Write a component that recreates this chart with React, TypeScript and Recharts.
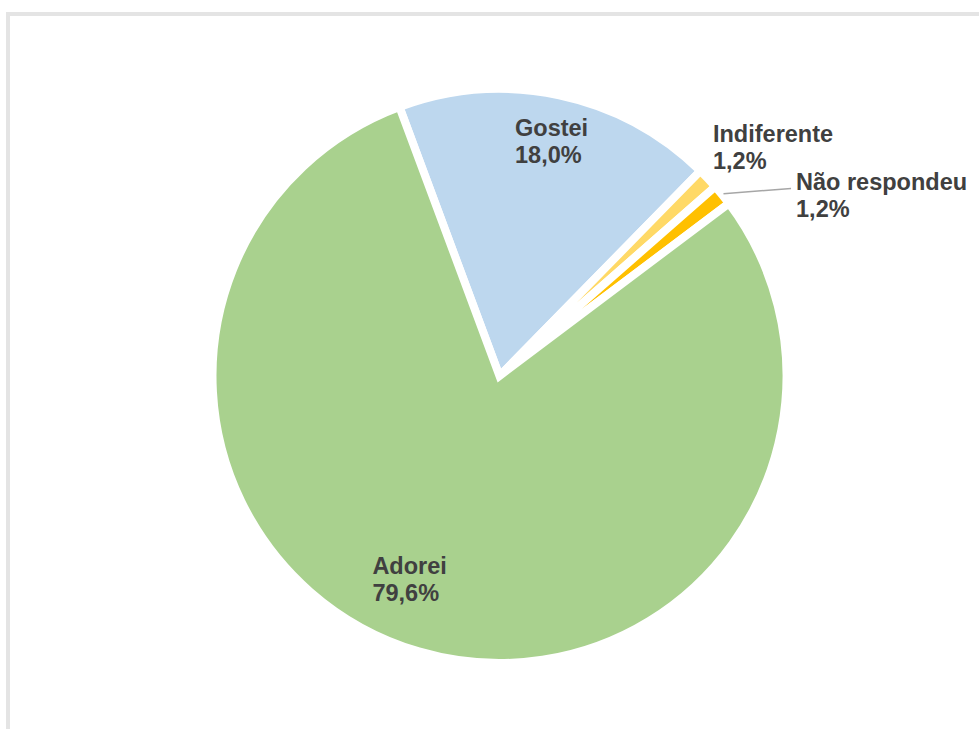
import { PieChart, Pie, Cell } from "recharts";

const categories = ["Gostei", "Indiferente", "Não respondeu", "Adorei"];
const shares = [18.0, 1.2, 1.2, 79.6];
const shareLabels = ["18,0%", "1,2%", "1,2%", "79,6%"];
const sliceColors = ["#BDD7EE", "#FFD966", "#FFC000", "#A9D18E"];

const chartData = categories.map((name, i) => ({ name, value: shares[i], pct: shareLabels[i] }));

// where each label sits, relative to the point at radius*outerRadius on the slice's mid angle
const labelLayout: Record<string, { radius: number; dx: number; dy: number; leader?: boolean }> = {
  Gostei: { radius: 0.83, dx: -34, dy: -6.5 },
  Indiferente: { radius: 0.986, dx: 8, dy: -39 },
  "Não respondeu": { radius: 0.986, dx: 77, dy: -7, leader: true },
  Adorei: { radius: 0.77, dx: -65, dy: -14 },
};

const RAD = Math.PI / 180;
const FONT = "'Liberation Sans', Arial, sans-serif";

function renderLabel(props: any) {
  const { cx, cy, midAngle, outerRadius, payload, name } = props;
  const key = name ?? payload?.name;
  const lay = labelLayout[key];
  if (!lay) return null;
  const cos = Math.cos(-midAngle * RAD);
  const sin = Math.sin(-midAngle * RAD);
  const px = cx + outerRadius * lay.radius * cos;
  const py = cy + outerRadius * lay.radius * sin;
  const x = px + lay.dx;
  const y = py + lay.dy;
  return (
    <g>
      {lay.leader && (
        <line
          x1={cx + outerRadius * 1.006 * cos}
          y1={cy + outerRadius * 1.006 * sin}
          x2={x - 5}
          y2={y - 2}
          stroke="#A6A6A6"
          strokeWidth={1.5}
        />
      )}
      <text x={x} y={y} fill="#404040" fontFamily={FONT} fontWeight="bold" fontSize={23.5} textAnchor="start">
        <tspan x={x} y={y}>{key}</tspan>
        <tspan x={x} y={y + 27}>{payload?.pct}</tspan>
      </text>
    </g>
  );
}

export default function App() {
  return (
    <div style={{ position: "absolute", left: 0, top: 0, width: 979, height: 729, overflow: "hidden", background: "#fff" }}>
      <div
        style={{
          position: "absolute",
          left: 6,
          top: 12,
          width: 1000,
          height: 800,
          border: "4px solid #E4E4E4",
          boxSizing: "border-box",
        }}
      />
      <div style={{ position: "absolute", left: 0, top: 0 }}>
        <PieChart width={979} height={729} margin={{ top: 0, right: 0, bottom: 0, left: 0 }}>
          <Pie
            data={chartData}
            dataKey="value"
            nameKey="name"
            cx={499.5}
            cy={376}
            outerRadius={287}
            startAngle={110.4}
            endAngle={-249.6}
            stroke="#FFFFFF"
            strokeWidth={8}
            label={renderLabel}
            labelLine={false}
            isAnimationActive={false}
          >
            {chartData.map((d, i) => (
              <Cell key={d.name} fill={sliceColors[i]} stroke="#FFFFFF" strokeWidth={8} />
            ))}
          </Pie>
        </PieChart>
      </div>
    </div>
  );
}
